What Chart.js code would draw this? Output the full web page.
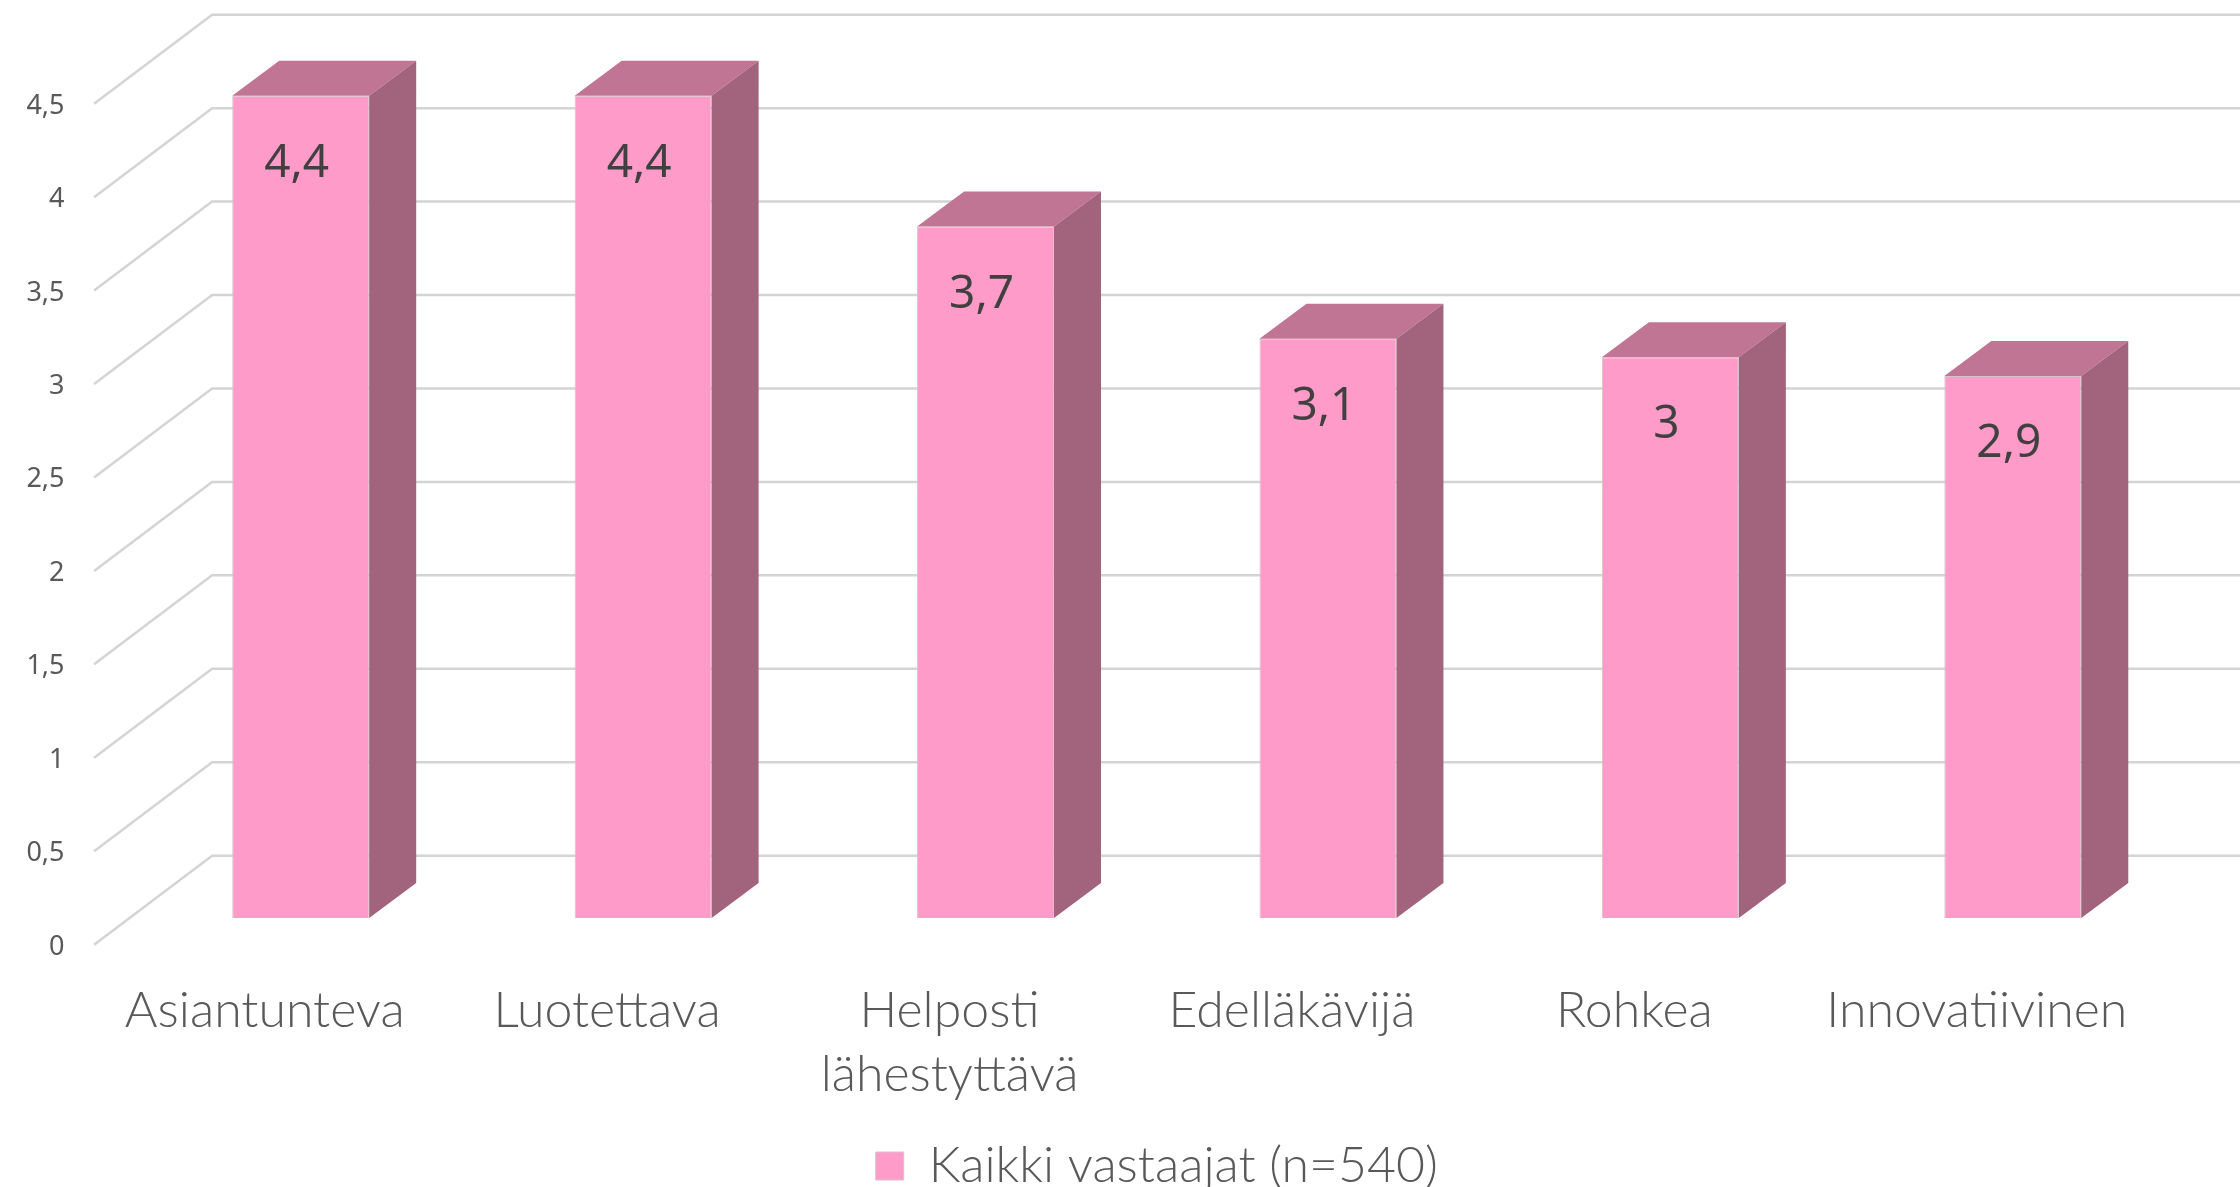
<!DOCTYPE html>
<html>
<head>
<meta charset="utf-8">
<script src="https://cdn.jsdelivr.net/npm/chart.js@4.4.0/dist/chart.umd.min.js"></script>
<style>
  html, body { margin: 0; padding: 0; background: #fff; }
  #wrap { width: 2240px; height: 1187px; }
</style>
</head>
<body>
<div id="wrap"><canvas id="chart"></canvas></div>
<script>
// data
const categories = ['Asiantunteva', 'Luotettava', ['Helposti', 'lähestyttävä'], 'Edelläkävijä', 'Rohkea', 'Innovatiivinen'];
const values = [4.4, 4.4, 3.7, 3.1, 3, 2.9];
const seriesName = 'Kaikki vastaajat (n=540)';
const yMin = 0, yMax = 4.5, yStep = 0.5;

// fake 3d: depth of the floor and of the bars
const DEPTH_X = 118, DEPTH_Y = 89, FRONT = 0.3;
const BAR_DX = 47, BAR_DY = 35;

const fmt = v => String(v).replace('.', ',');

const box3d = {
  id: 'box3d',
  beforeDatasetsDraw(chart) {
    const { ctx, chartArea } = chart;
    const y = chart.scales.y;
    const left = chartArea.left;
    const backL = left + DEPTH_X * (1 - FRONT);
    const frontL = left - DEPTH_X * FRONT;
    ctx.save();
    ctx.strokeStyle = '#d4d4d4';
    ctx.lineWidth = 2.5;
    y.ticks.forEach(t => {
      const py = y.getPixelForValue(t.value);
      const back = py - DEPTH_Y * (1 - FRONT);
      const front = py + DEPTH_Y * FRONT;
      ctx.beginPath();
      ctx.moveTo(frontL, front);
      ctx.lineTo(backL, back);
      ctx.lineTo(chart.width, back);
      ctx.stroke();
    });
    ctx.restore();
  },
  afterDatasetsDraw(chart) {
    const { ctx } = chart;
    const meta = chart.getDatasetMeta(0);
    ctx.save();
    meta.data.forEach((bar, i) => {
      const L = bar.x - bar.width / 2, R = bar.x + bar.width / 2;
      const top = bar.y, base = bar.base;
      // top face
      ctx.fillStyle = '#c07595';
      ctx.beginPath();
      ctx.moveTo(L, top);
      ctx.lineTo(R, top);
      ctx.lineTo(R + BAR_DX, top - BAR_DY);
      ctx.lineTo(L + BAR_DX, top - BAR_DY);
      ctx.closePath();
      ctx.fill();
      // side face
      ctx.fillStyle = '#a2637c';
      ctx.beginPath();
      ctx.moveTo(R, top);
      ctx.lineTo(R + BAR_DX, top - BAR_DY);
      ctx.lineTo(R + BAR_DX, base - BAR_DY);
      ctx.lineTo(R, base);
      ctx.closePath();
      ctx.fill();
      // value label
      ctx.fillStyle = '#404040';
      ctx.font = '46px "Noto Sans"';
      ctx.textAlign = 'center';
      ctx.textBaseline = 'middle';
      ctx.fillText(fmt(values[i]), bar.x - 4, top + 68);
    });
    ctx.restore();
  }
};

function draw() {
  new Chart(document.getElementById('chart'), {
    type: 'bar',
    data: {
      labels: categories,
      datasets: [{
        label: seriesName,
        data: values,
        backgroundColor: '#ff9bc8',
        borderColor: '#d5c3cb',
        borderWidth: 1,
        categoryPercentage: 1,
        barPercentage: 0.4
      }]
    },
    options: {
      responsive: true,
      maintainAspectRatio: false,
      animation: false,
      layout: { padding: { top: 77, right: 56, left: 0, bottom: -14 } },
      plugins: {
        legend: {
          position: 'bottom',
          fullSize: false,
          labels: {
            color: '#595959',
            font: { family: 'Lato', size: 50, weight: '300', lineHeight: 1 },
            boxWidth: 28,
            boxHeight: 28,
            padding: 2
          }
        },
        tooltip: { enabled: false }
      },
      scales: {
        x: {
          grid: { display: false, drawTicks: false },
          border: { display: false },
          ticks: {
            color: '#595959',
            font: { family: 'Lato', size: 50, weight: '300', lineHeight: 1.28 },
            labelOffset: -36,
            padding: 61,
            maxRotation: 0,
            autoSkip: false
          },
          afterFit(s) {
            const lg = s.chart.legend && s.chart.legend.height ? s.chart.legend.height : 62;
            s.height = 1187 + 14 - 918 - lg;
          }
        },
        y: {
          min: yMin,
          max: yMax,
          grid: { display: false, drawTicks: false },
          border: { display: false },
          ticks: {
            stepSize: yStep,
            color: '#595959',
            font: { family: 'Noto Sans', size: 27, lineHeight: 0.8 },
            labelOffset: 29,
            padding: 65,
            callback: v => fmt(v)
          },
          afterFit(s) { s.width = 129.5; }
        }
      }
    },
    plugins: [box3d]
  });
}

Promise.all([
  document.fonts.load('300 50px Lato'),
  document.fonts.load('46px "Noto Sans"')
]).then(draw, draw);
</script>
</body>
</html>
